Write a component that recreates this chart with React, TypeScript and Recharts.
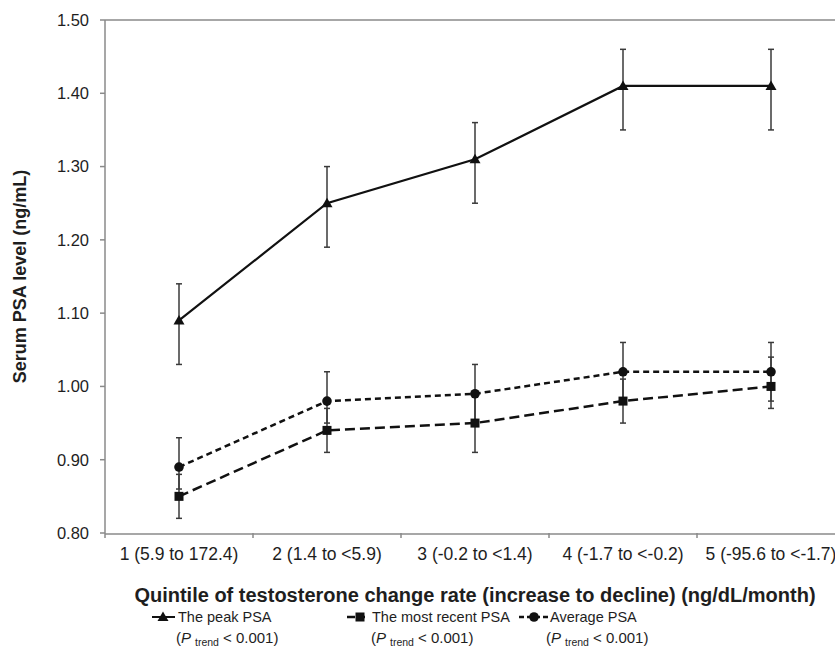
import React from 'react';
import {
  LineChart, Line, XAxis, YAxis, ErrorBar, ReferenceLine, Legend, Label,
} from 'recharts';

const categories = [
  '1 (5.9 to 172.4)',
  '2 (1.4 to <5.9)',
  '3 (-0.2 to <1.4)',
  '4 (-1.7 to <-0.2)',
  '5 (-95.6 to <-1.7)',
];

const peakPSA = [1.09, 1.25, 1.31, 1.41, 1.41];
const peakLow = [1.03, 1.19, 1.25, 1.35, 1.35];
const peakHigh = [1.14, 1.30, 1.36, 1.46, 1.46];

const recentPSA = [0.85, 0.94, 0.95, 0.98, 1.00];
const recentLow = [0.82, 0.91, 0.91, 0.95, 0.97];
const recentHigh = [0.88, 0.97, 0.99, 1.01, 1.04];

const averagePSA = [0.89, 0.98, 0.99, 1.02, 1.02];
const averageLow = [0.86, 0.95, 0.95, 0.98, 0.98];
const averageHigh = [0.93, 1.02, 1.03, 1.06, 1.06];

const yTicks = [0.8, 0.9, 1.0, 1.1, 1.2, 1.3, 1.4, 1.5];
const xTicks = [1, 2, 3, 4, 5];
const boundaryTicks = [0.5, 1.5, 2.5, 3.5, 4.5, 5.5];

const data = categories.map((c, i) => ({
  x: i + 1,
  name: c,
  peak: peakPSA[i],
  peakErr: [+(peakPSA[i] - peakLow[i]).toFixed(3), +(peakHigh[i] - peakPSA[i]).toFixed(3)],
  recent: recentPSA[i],
  recentErr: [+(recentPSA[i] - recentLow[i]).toFixed(3), +(recentHigh[i] - recentPSA[i]).toFixed(3)],
  average: averagePSA[i],
  averageErr: [+(averagePSA[i] - averageLow[i]).toFixed(3), +(averageHigh[i] - averagePSA[i]).toFixed(3)],
}));

const FONT = '"Liberation Sans", Arial, sans-serif';
const AXIS = '#8a8a8a';
const INK = '#111';
const TEXT = '#1e1e1e';
const RECENT_DASH = '10 5';
const AVG_DASH = '6 4';

const triangle = (cx: number, cy: number, key?: string) => (
  <path key={key} d={`M${cx},${cy - 5.5} L${cx + 5.5},${cy + 4} L${cx - 5.5},${cy + 4} Z`} fill={INK} />
);
const square = (cx: number, cy: number, key?: string) => (
  <rect key={key} x={cx - 4.5} y={cy - 4.5} width={9} height={9} fill={INK} />
);
const circle = (cx: number, cy: number, key?: string) => (
  <circle key={key} cx={cx} cy={cy} r={4.8} fill={INK} />
);

const PTrend = () => (
  <span>
    (<i>P</i>
    <span style={{ fontSize: 10.5, position: 'relative', top: 3, margin: '0 4px' }}>trend</span>
    {'< 0.001)'}
  </span>
);

const legendItems = [
  { name: 'The peak PSA', sx: 150, tx: 178, px: 176, kind: 'peak' },
  { name: 'The most recent PSA', sx: 345, tx: 372, px: 371, kind: 'recent' },
  { name: 'Average PSA', sx: 517, tx: 550, px: 546, kind: 'average' },
];

const LegendContent = () => (
  <div style={{ position: 'relative', width: 835, height: 50, fontFamily: FONT, fontSize: 14.5, color: TEXT }}>
    {legendItems.map(it => (
      <React.Fragment key={it.name}>
        <svg style={{ position: 'absolute', left: it.sx, top: 5 }} width={34} height={14}>
          {it.kind === 'peak' && (
            <>
              <line x1={2} x2={25} y1={7} y2={7} stroke={INK} strokeWidth={2} />
              {triangle(13, 7)}
            </>
          )}
          {it.kind === 'recent' && (
            <>
              <line x1={2} x2={20} y1={7} y2={7} stroke={INK} strokeWidth={2.5} strokeDasharray="8 6" />
              {square(15, 7)}
            </>
          )}
          {it.kind === 'average' && (
            <>
              <line x1={2} x2={31} y1={7} y2={7} stroke={INK} strokeWidth={2.5} strokeDasharray="5 3" />
              {circle(17, 7)}
            </>
          )}
        </svg>
        <div style={{ position: 'absolute', left: it.tx, top: 3, lineHeight: '18px', whiteSpace: 'nowrap' }}>{it.name}</div>
        <div style={{ position: 'absolute', left: it.px, top: 24, lineHeight: '18px', whiteSpace: 'nowrap', fontSize: 15 }}><PTrend /></div>
      </React.Fragment>
    ))}
  </div>
);

// tick mark drawn at each category boundary (Excel-style "between" ticks)
const BoundaryTick = (p: any) => (
  <line x1={p.x} x2={p.x} y1={p.y} y2={p.y + 5} stroke={AXIS} strokeWidth={1.5} />
);

export default function App() {
  return (
    <div style={{ position: 'absolute', left: 0, top: 0, width: 835, height: 657, overflow: 'hidden', background: '#fff' }}>
      <LineChart width={845} height={657} data={data} margin={{ top: 20, right: 0, left: 0, bottom: 48 }}>
        {/* id 0: boundary ticks, sits right on the plot edge */}
        <XAxis
          xAxisId={0}
          type="number"
          dataKey="x"
          domain={[0.5, 5.5]}
          ticks={boundaryTicks}
          interval={0}
          tick={<BoundaryTick />}
          tickLine={false}
          axisLine={false}
          tickSize={0}
          tickMargin={0}
          height={1}
          allowDataOverflow
        />
        {/* id 1: axis line, category labels, title */}
        <XAxis
          xAxisId={1}
          type="number"
          dataKey="x"
          domain={[0.5, 5.5]}
          ticks={xTicks}
          interval={0}
          tickFormatter={(v: number) => categories[v - 1] ?? ''}
          tickLine={false}
          axisLine={{ stroke: AXIS, strokeWidth: 1.5 }}
          tick={{ fill: TEXT, fontSize: 17.5, fontFamily: FONT }}
          tickMargin={8}
          height={75}
          allowDataOverflow
        >
          <Label
            value="Quintile of testosterone change rate (increase to decline) (ng/dL/month)"
            position="insideBottom"
            offset={7}
            style={{ fill: TEXT, fontSize: 20, fontWeight: 'bold', fontFamily: FONT }}
          />
        </XAxis>
        <YAxis
          type="number"
          domain={[0.8, 1.5]}
          ticks={yTicks}
          interval={0}
          width={105}
          tickFormatter={(v: number) => v.toFixed(2)}
          tick={{ fill: TEXT, fontSize: 16.5, fontFamily: FONT }}
          tickSize={5}
          tickMargin={11}
          tickLine={{ stroke: AXIS, strokeWidth: 1.5 }}
          axisLine={{ stroke: AXIS, strokeWidth: 1.5 }}
          allowDataOverflow
        >
          <Label
            content={({ viewBox }: any) => (
              <text
                transform={`translate(${viewBox.x + 20},${viewBox.y + viewBox.height / 2}) rotate(-90)`}
                textAnchor="middle"
                dominantBaseline="central"
                style={{ fill: TEXT, fontSize: 18, fontWeight: 'bold', fontFamily: FONT }}
              >
                Serum PSA level (ng/mL)
              </text>
            )}
          />
        </YAxis>
        <ReferenceLine y={1.5} stroke={AXIS} strokeWidth={1.5} />
        <Legend
          verticalAlign="middle"
          layout="horizontal"
          content={() => <LegendContent />}
          wrapperStyle={{ top: 605, left: 0, width: 835, height: 50 }}
        />
        <Line
          xAxisId={1}
          dataKey="peak"
          stroke="none"
          dot={false}
          activeDot={false}
          legendType="none"
          isAnimationActive={false}
        />
        <Line
          type="linear"
          dataKey="peak"
          stroke={INK}
          strokeWidth={2.2}
          isAnimationActive={false}
          dot={(p: any) => triangle(p.cx, p.cy, `t-${p.index}`)}
          activeDot={false}
        >
          <ErrorBar dataKey="peakErr" width={3} stroke="#3a3a3a" strokeWidth={1.5} direction="y" />
        </Line>
        <Line
          type="linear"
          dataKey="recent"
          stroke={INK}
          strokeWidth={2.5}
          strokeDasharray={RECENT_DASH}
          isAnimationActive={false}
          dot={(p: any) => square(p.cx, p.cy, `s-${p.index}`)}
          activeDot={false}
        >
          <ErrorBar dataKey="recentErr" width={3} stroke="#3a3a3a" strokeWidth={1.5} direction="y" />
        </Line>
        <Line
          type="linear"
          dataKey="average"
          stroke={INK}
          strokeWidth={2.5}
          strokeDasharray={AVG_DASH}
          isAnimationActive={false}
          dot={(p: any) => circle(p.cx, p.cy, `c-${p.index}`)}
          activeDot={false}
        >
          <ErrorBar dataKey="averageErr" width={3} stroke="#3a3a3a" strokeWidth={1.5} direction="y" />
        </Line>
      </LineChart>
    </div>
  );
}
